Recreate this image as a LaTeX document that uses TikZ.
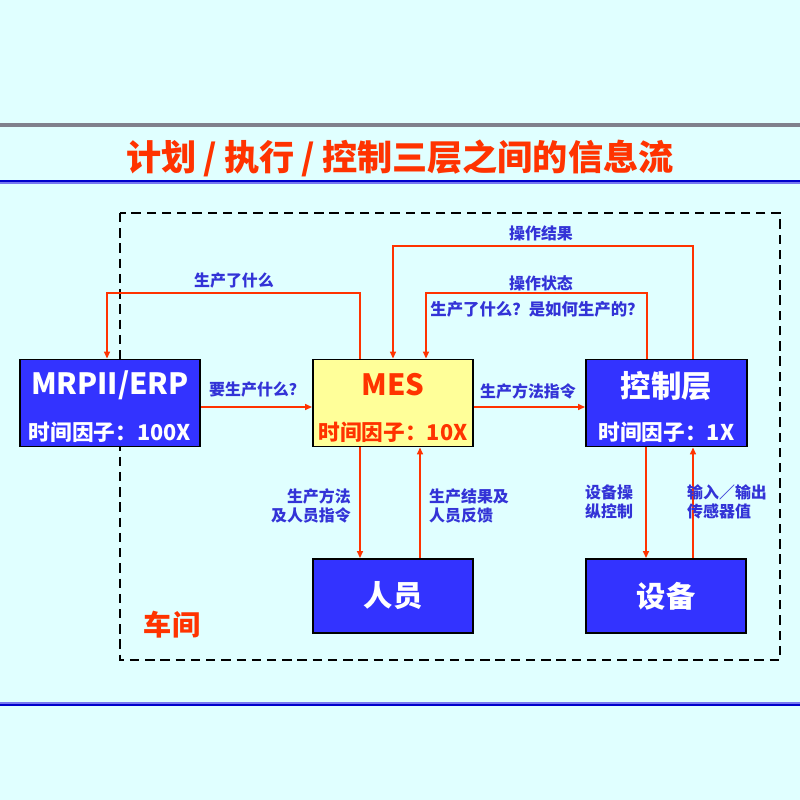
\documentclass[tikz,border=0pt]{standalone}
\usepackage{fontspec}
\setmainfont{Noto Sans CJK SC}
\usetikzlibrary{arrows.meta}
\definecolor{bgc}{RGB}{224,255,255}
\definecolor{boxblue}{RGB}{51,51,255}
\definecolor{lblue}{RGB}{51,51,215}
\definecolor{redc}{RGB}{255,51,0}
\definecolor{yellowc}{RGB}{255,255,153}
\definecolor{grayline}{RGB}{128,128,140}
\definecolor{darkblue}{RGB}{0,0,204}
\definecolor{paleblue}{RGB}{120,120,240}
\tikzset{
  box/.style={draw=black, line width=1.5pt, inner sep=0pt, align=center},
  bluebox/.style={box, fill=boxblue, text=white},
  arr/.style={draw=redc, line width=1.6pt, -{Triangle[length=6pt,width=5pt]}},
  lbl/.style={text=lblue, font=\bfseries\fontsize{13.6}{16.5}\selectfont, inner sep=0pt},
}
\newcommand{\tslash}{\hspace{0.2em}/\hspace{0.2em}}
\begin{document}
\begin{tikzpicture}[x=0.03cm, y=-0.03cm]
\useasboundingbox (0,0) rectangle (800,800);
\fill[bgc] (0,0) rectangle (800,800);
% horizontal rules
\draw[grayline, line width=3pt] (0,125) -- (800,125);
\draw[paleblue, line width=4pt] (0,182) -- (800,182);
\draw[darkblue, line width=2.2pt] (0,181) -- (800,181);
\draw[paleblue, line width=4pt] (0,704) -- (800,704);
\draw[darkblue, line width=1.3pt] (0,705) -- (800,705);
% title
\node (title) [text=redc, font=\bfseries\fontsize{30}{33}\selectfont] at (400,158) {计划\tslash 执行\tslash 控制三层之间的信息流};
% workshop frame
\draw[black, line width=1.6pt, dash pattern=on 8pt off 5pt] (120,213) rectangle (780,660);
\node (cj) [text=redc, font=\bfseries\fontsize{24}{28}\selectfont] at (172,625) {车间};
% boxes
\node (erp) [bluebox, minimum width=5.4cm, minimum height=2.61cm] at (110,403) {};
\node (erpA) [text=white, font=\bfseries\fontsize{25}{28}\selectfont] at (110,385) {MRPII/ERP};
\node (erpB) [text=white, font=\bfseries\fontsize{18.5}{22}\selectfont] at (110,432) {时间因子：100X};
\node (mes) [box, fill=yellowc, minimum width=4.8cm, minimum height=2.61cm] at (393,403) {};
\node (mesA) [text=redc, font=\bfseries\fontsize{25}{28}\selectfont] at (393,385) {MES};
\node (mesB) [text=redc, font=\bfseries\fontsize{18.5}{22}\selectfont] at (393,432) {时间因子：10X};
\node (ctl) [bluebox, minimum width=4.83cm, minimum height=2.61cm] at (666.5,403) {};
\node (ctlA) [text=white, font=\bfseries\fontsize{26}{30}\selectfont] at (666.5,386) {控制层};
\node (ctlB) [text=white, font=\bfseries\fontsize{18.5}{22}\selectfont] at (666.5,432) {时间因子：1X};
\node (ry) [bluebox, minimum width=4.8cm, minimum height=2.22cm, font=\bfseries\fontsize{25}{28}\selectfont] at (393,596) {人员};
\node (sb) [bluebox, minimum width=4.8cm, minimum height=2.22cm, font=\bfseries\fontsize{25}{28}\selectfont] at (666,596) {设备};
% horizontal connectors
\draw[arr] (erp.east |- 0,407) -- (mes.west |- 0,407);
\node (l1) [lbl] at (257,390) {要生产什么？};
\draw[arr] (mes.east |- 0,407) -- (ctl.west |- 0,407);
\node (l2) [lbl] at (528,391) {生产方法指令};
% top loops
\draw[arr] (mes.north -| 360,0) |- (107,293) -- (erp.north -| 107,0);
\node (l3) [lbl] at (234,281) {生产了什么};
\draw[arr] (ctl.north -| 693,0) |- (393,246) -- (mes.north -| 393,0);
\node (l4) [lbl] at (541,233) {操作结果};
\draw[arr] (ctl.north -| 647,0) |- (426,293) -- (mes.north -| 426,0);
\node (l5) [lbl] at (541,283) {操作状态};
\node (l6) [lbl, font=\bfseries\fontsize{14}{17}\selectfont] at (537,309) {生产了什么？是如何生产的？};
% vertical connectors
\draw[arr] (mes.south -| 360,0) -- (ry.north -| 360,0);
\draw[arr] (ry.north -| 420,0) -- (mes.south -| 420,0);
\draw[arr] (ctl.south -| 646,0) -- (sb.north -| 646,0);
\draw[arr] (sb.north -| 693,0) -- (ctl.south -| 693,0);
\node (l7) [lbl, align=right, anchor=east] at (351,506) {生产方法\\及人员指令};
\node (l8) [lbl, align=left, anchor=west] at (429,506) {生产结果及\\人员反馈};
\node (l9) [lbl, align=left, anchor=west] at (585,502) {设备操\\纵控制};
\node (l10) [lbl, align=left, anchor=west] at (687,502) {输入／输出\\传感器值};
\end{tikzpicture}
\end{document}
